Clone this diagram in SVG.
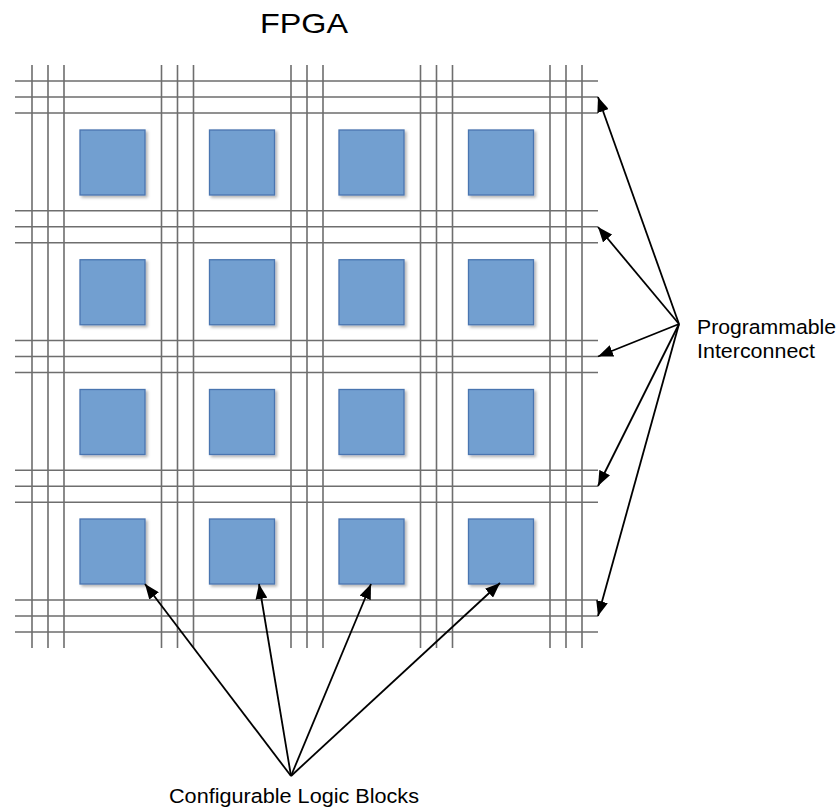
<svg xmlns="http://www.w3.org/2000/svg" width="840" height="808" viewBox="0 0 840 808">
  <style>
    .wire { stroke: #6e6e6e; stroke-width: 1.6; fill: none; }
    .clb { fill: #729fd0; stroke: #4a75b0; stroke-width: 1.3; filter: url(#shadow); }
    .arrow { stroke: #000; stroke-width: 1.8; fill: none; marker-end: url(#head); }
    .label { font-family: "Liberation Sans", Arial, sans-serif; fill: #000; }
  </style>
  <defs>
    <filter id="shadow" x="-20%" y="-20%" width="150%" height="150%">
      <feDropShadow dx="2" dy="2" stdDeviation="1.5" flood-color="#000" flood-opacity="0.3"/>
    </filter>
    <marker id="head" markerUnits="userSpaceOnUse" markerWidth="16" markerHeight="12" refX="15" refY="6" orient="auto">
      <path d="M0,0 L15,6 L0,12 Z" fill="#000"/>
    </marker>
  </defs>

  <rect width="840" height="808" fill="#fff"/>

  <!-- title -->
  <g id="title">
    <text class="label" x="304" y="33" font-size="28" text-anchor="middle" textLength="88" lengthAdjust="spacingAndGlyphs">FPGA</text>
  </g>

  <!-- routing channels: five groups of three tracks each way -->
  <g id="interconnect">
    <!-- vertical tracks -->
    <path class="wire" d="
      M32,65 V648 M48,65 V648 M64,65 V648
      M161.5,65 V648 M177.5,65 V648 M193.5,65 V648
      M291,65 V648 M307,65 V648 M323,65 V648
      M420.5,65 V648 M436.5,65 V648 M452.5,65 V648
      M550,65 V648 M566,65 V648 M582,65 V648"/>
    <!-- horizontal tracks -->
    <path class="wire" d="
      M15,81 H598 M15,97 H598 M15,113 H598
      M15,210.75 H598 M15,226.75 H598 M15,242.75 H598
      M15,340.5 H598 M15,356.5 H598 M15,372.5 H598
      M15,470.25 H598 M15,486.25 H598 M15,502.25 H598
      M15,600 H598 M15,616 H598 M15,632 H598"/>
  </g>

  <!-- configurable logic blocks -->
  <g id="clb-1-1"><rect class="clb" x="80" y="130" width="65" height="65"/></g>
  <g id="clb-1-2"><rect class="clb" x="209.5" y="130" width="65" height="65"/></g>
  <g id="clb-1-3"><rect class="clb" x="339" y="130" width="65" height="65"/></g>
  <g id="clb-1-4"><rect class="clb" x="468.5" y="130" width="65" height="65"/></g>

  <g id="clb-2-1"><rect class="clb" x="80" y="259.75" width="65" height="65"/></g>
  <g id="clb-2-2"><rect class="clb" x="209.5" y="259.75" width="65" height="65"/></g>
  <g id="clb-2-3"><rect class="clb" x="339" y="259.75" width="65" height="65"/></g>
  <g id="clb-2-4"><rect class="clb" x="468.5" y="259.75" width="65" height="65"/></g>

  <g id="clb-3-1"><rect class="clb" x="80" y="389.5" width="65" height="65"/></g>
  <g id="clb-3-2"><rect class="clb" x="209.5" y="389.5" width="65" height="65"/></g>
  <g id="clb-3-3"><rect class="clb" x="339" y="389.5" width="65" height="65"/></g>
  <g id="clb-3-4"><rect class="clb" x="468.5" y="389.5" width="65" height="65"/></g>

  <g id="clb-4-1"><rect class="clb" x="80" y="519" width="65" height="65"/></g>
  <g id="clb-4-2"><rect class="clb" x="209.5" y="519" width="65" height="65"/></g>
  <g id="clb-4-3"><rect class="clb" x="339" y="519" width="65" height="65"/></g>
  <g id="clb-4-4"><rect class="clb" x="468.5" y="519" width="65" height="65"/></g>

  <!-- labels -->
  <g id="label-interconnect">
    <text class="label" x="697" y="334" font-size="20.5" textLength="139" lengthAdjust="spacingAndGlyphs">Programmable</text>
    <text class="label" x="697" y="358" font-size="20.5" textLength="118" lengthAdjust="spacingAndGlyphs">Interconnect</text>
  </g>
  <g id="label-clb">
    <text class="label" x="294" y="803" font-size="20.5" text-anchor="middle" textLength="250" lengthAdjust="spacingAndGlyphs">Configurable Logic Blocks</text>
  </g>

  <!-- callout arrows -->
  <g id="connectors">
    <line class="arrow" x1="679" y1="324" x2="598" y2="97"/>
    <line class="arrow" x1="679" y1="324" x2="598" y2="227"/>
    <line class="arrow" x1="679" y1="324" x2="598" y2="356.5"/>
    <line class="arrow" x1="679" y1="324" x2="598" y2="486"/>
    <line class="arrow" x1="679" y1="324" x2="598" y2="616"/>

    <line class="arrow" x1="291" y1="776" x2="145" y2="584"/>
    <line class="arrow" x1="291" y1="776" x2="259" y2="584"/>
    <line class="arrow" x1="291" y1="776" x2="371" y2="584"/>
    <line class="arrow" x1="291" y1="776" x2="500" y2="583"/>
  </g>
</svg>
